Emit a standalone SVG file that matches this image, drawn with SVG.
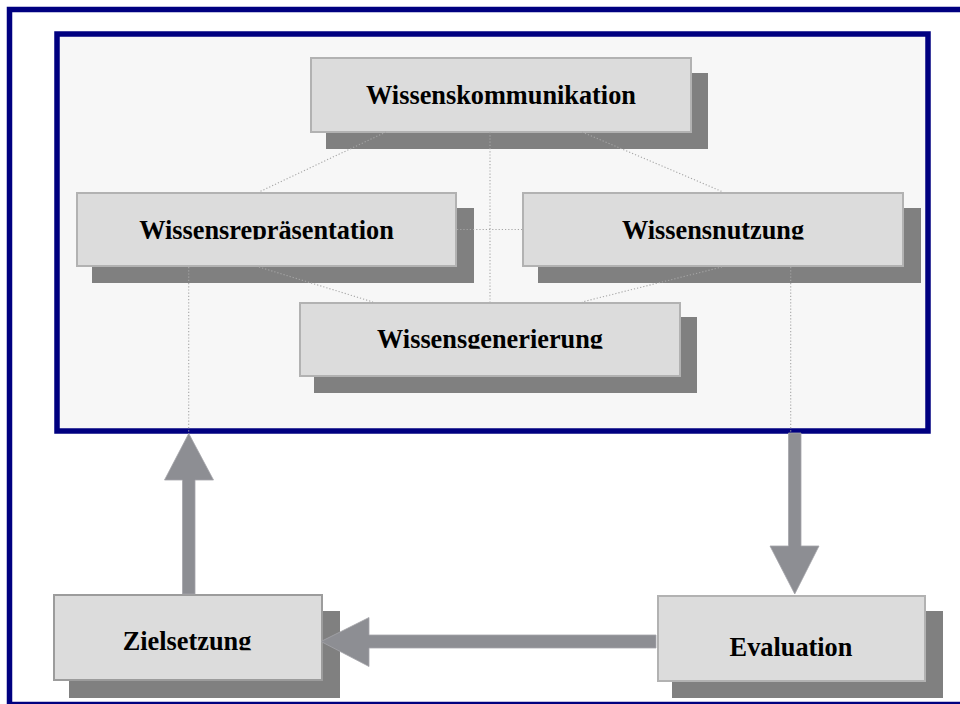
<svg xmlns="http://www.w3.org/2000/svg" width="960" height="704" viewBox="0 0 960 704">
<defs>
<style>
.frame{fill:none;stroke:#000080;stroke-width:5.5}
.inner{fill:#f7f7f7;stroke:#000080;stroke-width:5.5}
.shadow{fill:#808080}
.box{fill:#dcdcdc;stroke:#b2b2b2;stroke-width:2}
.lbl{font-family:"Liberation Serif","Times New Roman",serif;font-weight:bold;font-size:26.3px;fill:#000;text-anchor:middle}
.dot{fill:none;stroke:#a6a6a6;stroke-width:1.1;stroke-dasharray:1.2 2}
.arrow{fill:#8d8e93;stroke:#a4a5a9;stroke-width:0.8}
</style>
<clipPath id="c1"><rect x="300" y="50" width="400" height="55"/></clipPath>
<clipPath id="c2"><rect x="70" y="185" width="400" height="54.5"/></clipPath>
<clipPath id="c3"><rect x="515" y="185" width="400" height="54.5"/></clipPath>
<clipPath id="c4"><rect x="290" y="295" width="400" height="53.7"/></clipPath>
<clipPath id="c5"><rect x="50" y="590" width="280" height="60.3"/></clipPath>
<clipPath id="c6"><rect x="650" y="590" width="280" height="70"/></clipPath>
</defs>
<rect x="0" y="0" width="960" height="704" fill="#ffffff"/>
<rect class="frame" x="9.5" y="9.5" width="1000" height="695"/>
<rect class="inner" x="57" y="34" width="871" height="397"/>

<g id="node-wissenskommunikation">
<rect class="shadow" x="326" y="73" width="382" height="76"/>
<rect class="box" x="311" y="58" width="380" height="74"/>
<text class="lbl" x="501" y="104.3" clip-path="url(#c1)">Wissenskommunikation</text>
</g>
<g id="node-wissensrepraesentation">
<rect class="shadow" x="92" y="208" width="382" height="75"/>
<rect class="box" x="77" y="193" width="379" height="73"/>
<text class="lbl" x="266.5" y="239" clip-path="url(#c2)">Wissensrepräsentation</text>
</g>
<g id="node-wissensnutzung">
<rect class="shadow" x="538" y="208" width="383" height="75"/>
<rect class="box" x="523" y="193" width="380" height="73"/>
<text class="lbl" x="713" y="239" clip-path="url(#c3)">Wissensnutzung</text>
</g>
<g id="node-wissensgenerierung">
<rect class="shadow" x="314" y="317" width="383" height="76"/>
<rect class="box" x="300" y="303" width="380" height="73"/>
<text class="lbl" x="490" y="348.3" clip-path="url(#c4)">Wissensgenerierung</text>
</g>
<g id="node-zielsetzung">
<rect class="shadow" x="69" y="611" width="271" height="87"/>
<rect class="box" x="54" y="595" width="268" height="85" style="stroke:#9c9c9c"/>
<text class="lbl" x="187" y="650" clip-path="url(#c5)">Zielsetzung</text>
</g>
<g id="node-evaluation">
<rect class="shadow" x="672" y="611" width="271" height="87"/>
<rect class="box" x="658" y="596" width="267" height="85"/>
<text class="lbl" x="791" y="656" clip-path="url(#c6)">Evaluation</text>
</g>

<g id="connectors">
<line class="dot" x1="386" y1="132" x2="259" y2="192"/>
<line class="dot" x1="490" y1="132" x2="490" y2="302"/>
<line class="dot" x1="582" y1="132" x2="723" y2="192"/>
<line class="dot" x1="457" y1="229.5" x2="522" y2="229.5"/>
<line class="dot" x1="259" y1="267" x2="373" y2="302"/>
<line class="dot" x1="722" y1="267" x2="582" y2="302"/>
<line class="dot" x1="188.7" y1="267" x2="188.7" y2="433"/>
<line class="dot" x1="790.7" y1="267" x2="790.7" y2="434"/>
<polygon class="arrow" points="182.5,594 195,594 195,480 213.5,480 188.75,433.5 164.5,480 182.5,480"/>
<polygon class="arrow" points="788.5,433 801,433 801,546 819,546 794.75,594 770,546 788.5,546"/>
<polygon class="arrow" points="656,635 369,635 369,617.5 321,641.5 369,666.5 369,648 656,648"/>
</g>
</svg>
